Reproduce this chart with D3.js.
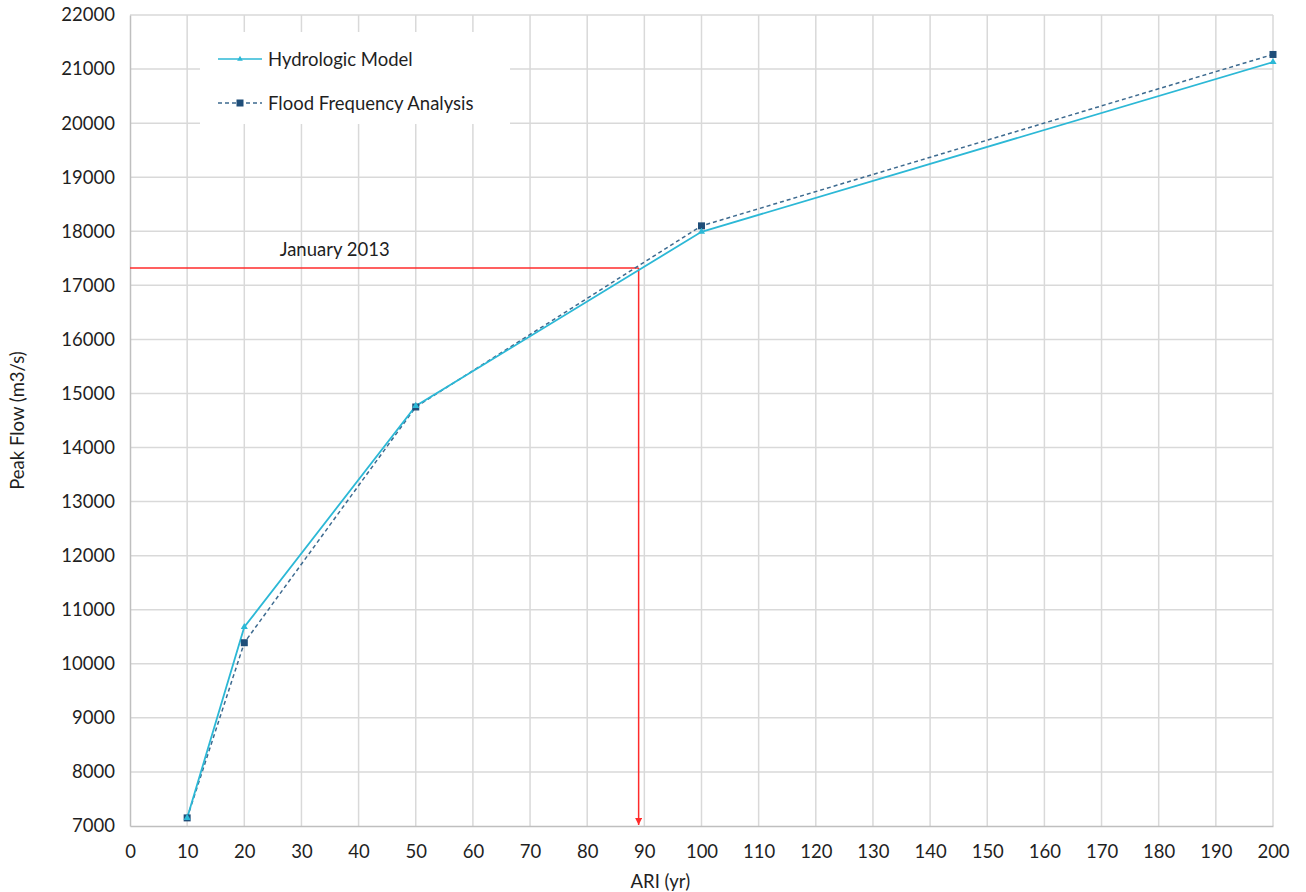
<!DOCTYPE html>
<html>
<head>
<meta charset="utf-8">
<script src="https://cdn.jsdelivr.net/npm/d3@7"></script>
<style>
  html, body { margin: 0; padding: 0; background: #fff; }
  svg { display: block; font-family: "Lato", "Open Sans", sans-serif; }
</style>
</head>
<body>
<svg id="chart" width="1306" height="892"></svg>
<script>
// ARI return periods (years)
const ari = [10, 20, 50, 100, 200];
// Peak flow estimates (m3/s)
const hydrologicModel = [7150, 10680, 14770, 17990, 21130];
const floodFrequency = [7150, 10390, 14750, 18100, 21270];
// January 2013 event
const eventAri = 89;
const eventFlow = 17320;

const xTicks = d3.range(0, 201, 10);
const yTicks = d3.range(7000, 22001, 1000);

const svg = d3.select("#chart");
const margin = { left: 130, right: 33, top: 15, bottom: 66 };
const W = 1306, H = 892;
const fs = 18.5;

const x = d3.scaleLinear().domain([0, 200]).range([margin.left, W - margin.right]);
const y = d3.scaleLinear().domain([7000, 22000]).range([H - margin.bottom, margin.top]);

const grid = "#d9d9d9";

// gridlines
svg.append("g").selectAll("line.v").data(xTicks.slice(1)).join("line")
  .attr("x1", d => x(d)).attr("x2", d => x(d))
  .attr("y1", y(7000)).attr("y2", y(22000))
  .attr("stroke", grid).attr("stroke-width", 1.5);
svg.append("g").selectAll("line.h").data(yTicks.slice(1)).join("line")
  .attr("x1", x(0)).attr("x2", x(200))
  .attr("y1", d => y(d)).attr("y2", d => y(d))
  .attr("stroke", grid).attr("stroke-width", 1.5);

// axes
const xAxis = svg.append("g").attr("transform", `translate(0,${y(7000)})`)
  .call(d3.axisBottom(x).tickValues(xTicks).tickSize(0).tickPadding(19));
const yAxis = svg.append("g").attr("transform", `translate(${x(0)},0)`)
  .call(d3.axisLeft(y).tickValues(yTicks).tickFormat(d3.format("d")).tickSize(0).tickPadding(15));
[xAxis, yAxis].forEach(a => {
  a.select(".domain").attr("stroke", "#bfbfbf").attr("stroke-width", 1.5);
  a.selectAll("text").attr("font-size", fs).attr("fill", "#1f1f1f")
    .attr("font-family", "Lato, 'Open Sans', sans-serif");
});

// axis titles
svg.append("text").attr("x", x(90) + 16).attr("y", 888)
  .attr("text-anchor", "middle").attr("font-size", fs).attr("fill", "#1f1f1f")
  .text("ARI (yr)");
svg.append("text").attr("transform", `translate(24,${(y(7000) + y(22000)) / 2}) rotate(-90)`)
  .attr("text-anchor", "middle").attr("font-size", fs).attr("fill", "#1f1f1f")
  .text("Peak Flow (m3/s)");

// January 2013 reference lines
const red = "#ff2b2b";
svg.append("defs").append("marker")
  .attr("id", "arrow").attr("viewBox", "0 0 10 10").attr("refX", 10).attr("refY", 5)
  .attr("markerWidth", 5).attr("markerHeight", 5).attr("orient", "auto")
  .append("path").attr("d", "M0,0 L10,5 L0,10 z").attr("fill", red);
svg.append("line")
  .attr("x1", x(0)).attr("x2", x(eventAri)).attr("y1", y(eventFlow)).attr("y2", y(eventFlow))
  .attr("stroke", red).attr("stroke-width", 1.5);
svg.append("line")
  .attr("x1", x(eventAri)).attr("x2", x(eventAri)).attr("y1", y(eventFlow)).attr("y2", y(7000) - 1)
  .attr("stroke", red).attr("stroke-width", 1.5).attr("marker-end", "url(#arrow)");
svg.append("text").attr("x", x(26.2)).attr("y", y(eventFlow) - 12)
  .attr("font-size", fs).attr("fill", "#1f1f1f").text("January 2013");

// series
const cyan = "#2cb8d6";
const navy = "#1f4e79";
const line = d3.line().x(d => x(d[0])).y(d => y(d[1]));
const hm = ari.map((a, i) => [a, hydrologicModel[i]]);
const ffa = ari.map((a, i) => [a, floodFrequency[i]]);

svg.append("path").datum(ffa).attr("d", line).attr("fill", "none")
  .attr("stroke", "#3d6a8f").attr("stroke-width", 1.5).attr("stroke-dasharray", "4,3");
svg.append("path").datum(hm).attr("d", line).attr("fill", "none")
  .attr("stroke", cyan).attr("stroke-width", 1.8);

const tri = d3.symbol().type(d3.symbolTriangle).size(22);
svg.append("g").selectAll("rect").data(ffa).join("rect")
  .attr("x", d => x(d[0]) - 3.5).attr("y", d => y(d[1]) - 3.5)
  .attr("width", 7).attr("height", 7).attr("fill", navy);
svg.append("g").selectAll("path").data(hm).join("path")
  .attr("d", tri).attr("transform", d => `translate(${x(d[0])},${y(d[1])})`)
  .attr("fill", cyan);

// legend
const lg = svg.append("g");
lg.append("rect").attr("x", 200).attr("y", 32).attr("width", 310).attr("height", 92).attr("fill", "#fff");
const rows = [
  { label: "Hydrologic Model", y: 59, dash: null, sym: "tri" },
  { label: "Flood Frequency Analysis", y: 103, dash: "4,3", sym: "sq" }
];
rows.forEach(r => {
  lg.append("line").attr("x1", 218).attr("x2", 262).attr("y1", r.y).attr("y2", r.y)
    .attr("stroke", r.sym === "tri" ? cyan : "#3d6a8f").attr("stroke-width", 1.5)
    .attr("stroke-dasharray", r.dash);
  if (r.sym === "tri") {
    lg.append("path").attr("d", d3.symbol().type(d3.symbolTriangle).size(14))
      .attr("transform", `translate(240,${r.y})`).attr("fill", cyan);
  } else {
    lg.append("rect").attr("x", 236.5).attr("y", r.y - 3.5).attr("width", 7).attr("height", 7).attr("fill", navy);
  }
  lg.append("text").attr("x", 268).attr("y", r.y + 6.5).attr("font-size", fs)
    .attr("fill", "#1f1f1f").text(r.label);
});
</script>
</body>
</html>
